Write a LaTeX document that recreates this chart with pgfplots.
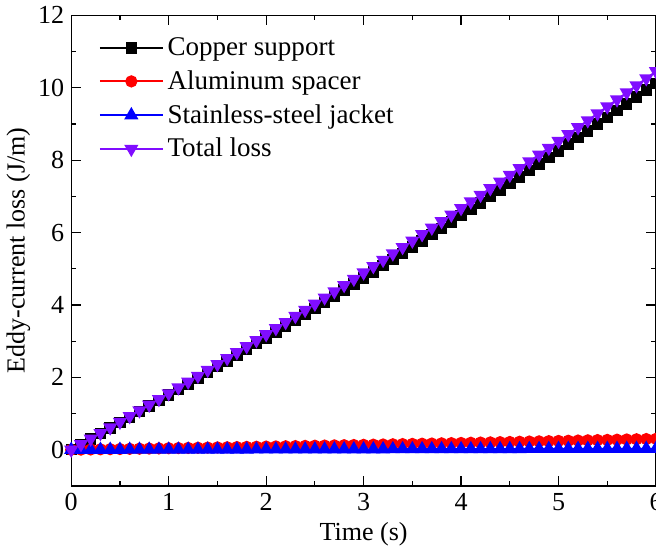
\documentclass[border=0pt]{standalone}
\usepackage{pgfplots}
\usepackage{pgfplotstable}
\pgfplotsset{compat=1.18}
\usepackage{fontspec}
\setmainfont{Liberation Serif}
\definecolor{mypurple}{rgb}{0.5,0.05,1}
\pgfplotstableread{
t cu al ss tot
0.0 0.000 0.000 0.0000 0.000
0.1 0.148 0.004 0.0005 0.152
0.2 0.296 0.008 0.0010 0.305
0.3 0.446 0.012 0.0015 0.459
0.4 0.596 0.016 0.0020 0.614
0.5 0.747 0.020 0.0025 0.769
0.6 0.897 0.025 0.0030 0.925
0.7 1.050 0.029 0.0035 1.082
0.8 1.203 0.033 0.0040 1.240
0.9 1.357 0.037 0.0045 1.398
1.0 1.510 0.042 0.0050 1.557
1.1 1.666 0.046 0.0055 1.717
1.2 1.821 0.050 0.0060 1.877
1.3 1.978 0.055 0.0065 2.039
1.4 2.135 0.059 0.0070 2.201
1.5 2.292 0.064 0.0075 2.363
1.6 2.451 0.068 0.0080 2.527
1.7 2.610 0.073 0.0085 2.691
1.8 2.769 0.078 0.0090 2.856
1.9 2.931 0.082 0.0095 3.022
2.0 3.091 0.087 0.0100 3.188
2.1 3.254 0.091 0.0105 3.355
2.2 3.416 0.096 0.0110 3.523
2.3 3.580 0.101 0.0115 3.692
2.4 3.743 0.106 0.0120 3.861
2.5 3.908 0.111 0.0125 4.031
2.6 4.074 0.115 0.0130 4.202
2.7 4.241 0.120 0.0135 4.374
2.8 4.407 0.125 0.0140 4.546
2.9 4.575 0.130 0.0145 4.719
3.0 4.743 0.135 0.0150 4.893
3.1 4.913 0.140 0.0155 5.068
3.2 5.082 0.145 0.0160 5.243
3.3 5.252 0.151 0.0165 5.419
3.4 5.423 0.156 0.0170 5.596
3.5 5.595 0.161 0.0175 5.773
3.6 5.768 0.166 0.0180 5.952
3.7 5.942 0.171 0.0185 6.131
3.8 6.114 0.177 0.0190 6.310
3.9 6.290 0.182 0.0195 6.491
4.0 6.465 0.187 0.0200 6.672
4.1 6.641 0.193 0.0205 6.854
4.2 6.818 0.198 0.0210 7.037
4.3 6.996 0.203 0.0215 7.220
4.4 7.173 0.209 0.0220 7.404
4.5 7.353 0.214 0.0225 7.589
4.6 7.532 0.220 0.0230 7.775
4.7 7.712 0.226 0.0235 7.961
4.8 7.894 0.231 0.0240 8.149
4.9 8.075 0.237 0.0245 8.336
5.0 8.257 0.243 0.0250 8.525
5.1 8.441 0.248 0.0255 8.714
5.2 8.625 0.254 0.0260 8.905
5.3 8.809 0.260 0.0265 9.095
5.4 8.994 0.266 0.0270 9.287
5.5 9.181 0.271 0.0275 9.479
5.6 9.367 0.277 0.0280 9.672
5.7 9.555 0.283 0.0285 9.866
5.8 9.743 0.289 0.0290 10.061
5.9 9.932 0.295 0.0295 10.256
6.0 10.121 0.301 0.0300 10.452
}\datatab
\begin{document}
\begin{tikzpicture}[trim axis right]
\begin{axis}[
  scale only axis,
  width=292pt, height=235pt,
  xmin=0, xmax=6, ymin=-1, ymax=12,
  xtick={0,1,...,6}, ytick={0,2,...,12},
  minor xtick={0.5,1.5,...,5.5},
  minor ytick={-1,1,...,11},
  tick align=inside,
  major tick length=5pt, minor tick length=2.5pt,
  tick style={black, line width=0.6pt},
  axis line style={line width=0.7pt},
  /pgf/number format/assume math mode=true,
  ticklabel style={font=\fontsize{13}{15}\selectfont},
  label style={font=\fontsize{13}{15}\selectfont},
  xlabel={Time (s)},
  ylabel={Eddy-current loss (J/m)},
  xlabel style={yshift=1pt},
  ylabel style={yshift=-3pt},
  legend style={draw=none, fill=none, at={(0.047,0.962)}, anchor=north west,
    font=\fontsize{13.5}{16}\selectfont, row sep=2pt, inner sep=0pt},
  legend cell align=left,
  legend image code/.code={\draw[mark repeat=2,mark phase=2] plot coordinates {(0cm,0cm) (0.55cm,0cm) (1.1cm,0cm)};},
  every axis plot/.append style={line width=0.9pt},
]
\addplot[black, mark=square*, mark size=2.4pt, mark options={solid}] table[x=t,y=cu] {\datatab};
\addlegendentry{Copper support}
\addplot[red, mark=*, mark size=2.6pt] table[x=t,y=al] {\datatab};
\addlegendentry{Aluminum spacer}
\addplot[blue, mark=triangle*, mark size=3.2pt] table[x=t,y=ss] {\datatab};
\addlegendentry{Stainless-steel jacket}
\addplot[mypurple, mark=triangle*, mark size=3.2pt, mark options={rotate=180}] table[x=t,y=tot] {\datatab};
\addlegendentry{Total loss}
\end{axis}
\end{tikzpicture}
\end{document}
